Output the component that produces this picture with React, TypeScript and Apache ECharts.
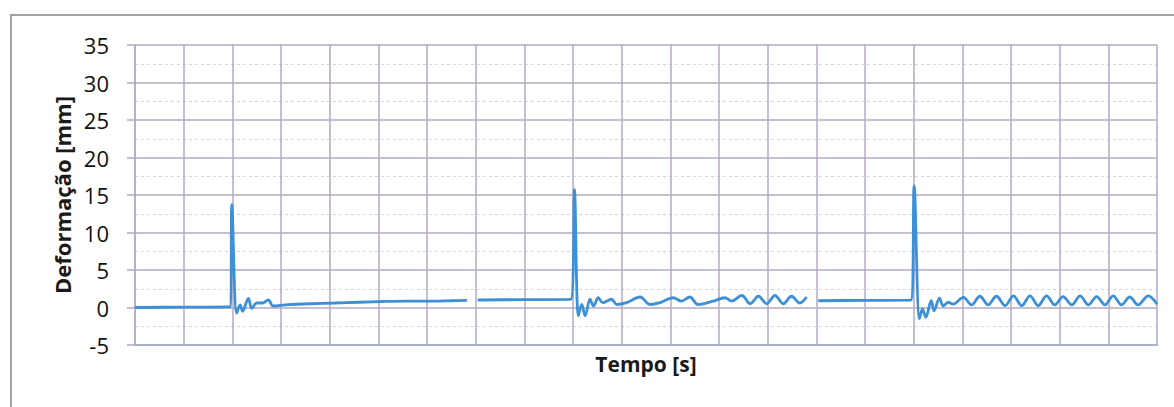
import React, { useEffect, useRef } from "react";
import * as echarts from "echarts";

// Time is expressed in grid-column units (the x axis carries no tick labels)
const yTicks = [-5, 0, 5, 10, 15, 20, 25, 30, 35];
const xCategories = 21; // number of vertical grid columns

const segment1: [number, number][] = [
  [0, 0.0], [1.0, 0.05], [1.96, 0.1], [1.99, 13.7], [2.09, -0.75], [2.16, 0.35],
  [2.21, -0.5], [2.33, 1.2], [2.4, -0.1], [2.5, 0.6], [2.62, 0.6], [2.74, 1.0],
  [2.84, 0.2], [3.1, 0.35], [3.6, 0.5], [4.1, 0.6], [4.6, 0.7], [5.1, 0.8],
  [5.6, 0.85], [6.1, 0.85], [6.5, 0.9], [6.82, 0.95],
];

const segment2: [number, number][] = [
  [7.04, 1.0], [8.0, 1.05], [8.96, 1.1], [9.03, 15.7], [9.11, -1.1], [9.18, 0.4],
  [9.25, -1.1], [9.35, 1.1], [9.42, 0.2], [9.52, 1.3], [9.61, 0.65], [9.79, 1.1],
  [9.9, 0.4], [10.1, 0.65], [10.38, 1.4], [10.58, 0.4], [10.79, 0.65], [11.06, 1.3],
  [11.23, 0.85], [11.4, 1.4], [11.57, 0.4], [11.88, 0.85], [12.12, 1.3], [12.26, 0.85],
  [12.47, 1.6], [12.64, 0.5], [12.81, 1.5], [12.98, 0.5], [13.15, 1.6], [13.32, 0.5],
  [13.49, 1.5], [13.66, 0.6], [13.8, 1.4],
];

const segment3: [number, number][] = [
  [14.04, 0.9], [15.0, 0.95], [15.95, 1.0], [16.01, 16.2], [16.12, -1.5], [16.18, -0.2],
  [16.25, -1.3], [16.36, 0.9], [16.42, -0.45], [16.53, 1.25], [16.61, 0.2], [16.71, 0.7],
  [16.81, 0.45], [17.02, 1.35], [17.19, 0.35], [17.36, 1.5], [17.53, 0.35], [17.7, 1.5],
  [17.88, 0.25], [18.05, 1.55], [18.22, 0.25], [18.39, 1.55], [18.56, 0.25], [18.73, 1.55],
  [18.9, 0.35], [19.07, 1.45], [19.25, 0.35], [19.42, 1.55], [19.59, 0.35], [19.76, 1.45],
  [19.93, 0.35], [20.1, 1.55], [20.27, 0.35], [20.44, 1.4], [20.61, 0.35], [20.82, 1.55],
  [21.0, 0.45],
];

const yAxisName = "Deformação [mm]";
const xAxisName = "Tempo [s]";

export default function App() {
  const ref = useRef<HTMLDivElement>(null);

  useEffect(() => {
    if (!ref.current) return;
    const chart = echarts.init(ref.current, undefined, { renderer: "svg" });
    const gridColor = "#b4a9c3";
    const lineColor = "#3d8fd6";
    const mkSeries = (data: [number, number][]) => ({
      type: "line",
      data,
      showSymbol: false,
      smooth: 0.35,
      lineStyle: { color: lineColor, width: 2.8 },
      itemStyle: { color: lineColor },
    });
    chart.setOption({
      animation: false,
      backgroundColor: "#ffffff",
      textStyle: { fontFamily: "Open Sans" },
      grid: { left: 135, top: 45, width: 1022, height: 300 },
      graphic: [
        {
          type: "rect",
          shape: { x: 11, y: 15, width: 1200, height: 420 },
          style: { fill: "none", stroke: "#a3a3a3", lineWidth: 2 },
          silent: true,
        },
      ],
      xAxis: {
        type: "value",
        min: 0,
        max: xCategories,
        interval: 1,
        name: xAxisName,
        nameLocation: "middle",
        nameGap: 8,
        nameTextStyle: {
          fontFamily: "Open Sans",
          fontWeight: "bold",
          fontSize: 21,
          color: "#1a1a1a",
          verticalAlign: "top",
        },
        axisLabel: { show: false },
        axisTick: { show: false },
        axisLine: { onZero: false, lineStyle: { color: "#a6b2cc", width: 2 } },
        splitLine: { show: true, lineStyle: { color: gridColor, width: 1.5 } },
      },
      yAxis: {
        type: "value",
        min: yTicks[0],
        max: yTicks[yTicks.length - 1],
        interval: 5,
        name: yAxisName,
        nameLocation: "middle",
        nameGap: 61,
        nameTextStyle: {
          fontFamily: "Open Sans",
          fontWeight: "bold",
          fontSize: 22,
          color: "#1a1a1a",
        },
        axisLabel: {
          fontFamily: "Open Sans",
          fontSize: 22,
          color: "#111111",
          margin: 26,
        },
        axisTick: { show: true, length: 8, lineStyle: { color: gridColor, width: 1.5 } },
        axisLine: { show: true, lineStyle: { color: gridColor, width: 1.5 } },
        splitLine: { show: true, lineStyle: { color: gridColor, width: 1.5 } },
        minorTick: { show: false, splitNumber: 2 },
        minorSplitLine: {
          show: true,
          lineStyle: { color: "#d0d4e8", width: 1, type: [3, 3] },
        },
      },
      series: [mkSeries(segment1), mkSeries(segment2), mkSeries(segment3)],
    });
    return () => chart.dispose();
  }, []);

  return (
    <div
      ref={ref}
      style={{ position: "fixed", left: 0, top: 0, width: 1174, height: 407 }}
    />
  );
}
